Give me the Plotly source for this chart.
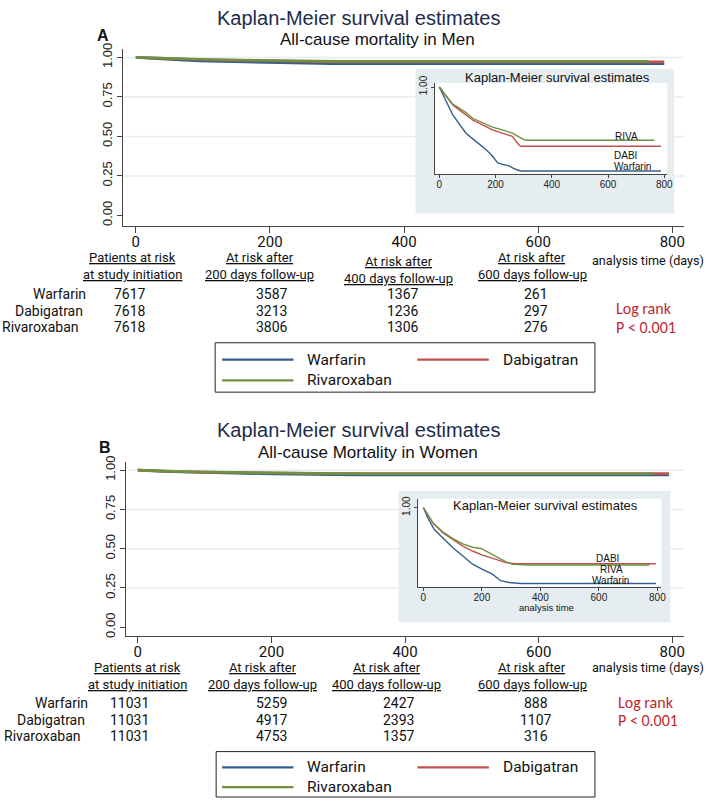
import plotly.graph_objects as go

W, H = 709, 801

# ---------------- data ----------------
drugs = ['Warfarin', 'Dabigatran', 'Rivaroxaban']
inset_labels_a = ['Warfarin', 'DABI', 'RIVA']
inset_labels_b = ['Warfarin', 'DABI', 'RIVA']
colors = ['#34608f', '#c0504d', '#6f9140']

# Panel A (men) Kaplan-Meier survival
a_warf_t = [0, 13, 31, 48, 72, 95, 130, 166, 189, 207, 224, 248, 271, 289, 788]
a_warf_s = [1.0, 0.9961, 0.9914, 0.9867, 0.9820, 0.9780, 0.9741, 0.9702, 0.9671, 0.9639, 0.9631, 0.9624, 0.9608, 0.9600, 0.9600]
a_dabi_t = [0, 25, 48, 72, 95, 119, 154, 189, 224, 260, 277, 289, 788]
a_dabi_s = [1.0, 0.9953, 0.9914, 0.9890, 0.9867, 0.9843, 0.9820, 0.9796, 0.9780, 0.9765, 0.9733, 0.9718, 0.9718]
a_riva_t = [0, 25, 48, 72, 95, 119, 154, 189, 224, 260, 283, 307, 765]
a_riva_s = [1.0, 0.9956, 0.9918, 0.9898, 0.9878, 0.9851, 0.9828, 0.9809, 0.9796, 0.9780, 0.9762, 0.9746, 0.9746]

# Panel B (women)
b_warf_t = [0, 16, 38, 67, 101, 135, 168, 202, 236, 264, 293, 332, 795]
b_warf_s = [1.0, 0.9958, 0.9913, 0.9881, 0.9842, 0.9809, 0.9777, 0.9757, 0.9738, 0.9712, 0.9705, 0.9701, 0.9701]
b_dabi_t = [0, 33, 67, 101, 135, 168, 202, 248, 281, 315, 795]
b_dabi_s = [1.0, 0.9939, 0.9900, 0.9874, 0.9848, 0.9829, 0.9813, 0.9796, 0.9783, 0.9779, 0.9779]
b_riva_t = [0, 33, 67, 101, 135, 168, 197, 225, 248, 281, 304, 361, 773]
b_riva_s = [1.0, 0.9939, 0.9904, 0.9878, 0.9857, 0.9844, 0.9839, 0.9822, 0.9809, 0.9787, 0.9777, 0.9774, 0.9774]

# Numbers at risk
risk_times = [0, 200, 400, 600]
a_risk_warf = [7617, 3587, 1367, 261]
a_risk_dabi = [7618, 3213, 1236, 297]
a_risk_riva = [7618, 3806, 1306, 276]
b_risk_warf = [11031, 5259, 2427, 888]
b_risk_dabi = [11031, 4917, 2393, 1107]
b_risk_riva = [11031, 4753, 1357, 316]

header_line1 = ['Patients at risk', 'At risk after', 'At risk after', 'At risk after']
header_line2 = ['at study initiation', '200 days follow-up', '400 days follow-up', '600 days follow-up']
x_ticks = [0, 200, 400, 600, 800]
y_ticks = [0, 0.25, 0.5, 0.75, 1.0]
grid_vals = [0.25, 0.5, 0.75, 1.0]

# ---------------- styles ----------------
SANS = 'Liberation Sans, Arial, sans-serif'
NARROW = 'Liberation Sans Narrow, Arial Narrow, Roboto, sans-serif'
CAL = 'Carlito, Calibri, Lato, sans-serif'
AX = '#444444'
GRID = '#e5edf0'
BOX = '#e6edf1'
NAVY = '#1c2b4d'
RED = '#c0272d'


def X(px):
    return px / W


def Y(py):
    return 1 - py / H


fig = go.Figure()

panels = [
    dict(main=('x', 'y'), ins=('x2', 'y2'),
         series=[(a_warf_t, a_warf_s), (a_dabi_t, a_dabi_s), (a_riva_t, a_riva_s)]),
    dict(main=('x3', 'y3'), ins=('x4', 'y4'),
         series=[(b_warf_t, b_warf_s), (b_dabi_t, b_dabi_s), (b_riva_t, b_riva_s)]),
]
for p in panels:
    for (t, s), c, name in zip(p['series'], colors, drugs):
        fig.add_trace(go.Scatter(x=t, y=s, mode='lines', line=dict(color=c, width=2.6),
                                 xaxis=p['main'][0], yaxis=p['main'][1], showlegend=False, name=name))
    for (t, s), c, name in zip(p['series'], colors, drugs):
        fig.add_trace(go.Scatter(x=t, y=s, mode='lines', line=dict(color=c, width=1.4),
                                 xaxis=p['ins'][0], yaxis=p['ins'][1], showlegend=False, name=name))


def main_x(domain, rng, anchor):
    return dict(domain=domain, range=rng, anchor=anchor, showline=True, linecolor=AX, linewidth=1.4,
                ticks='outside', ticklen=6, tickcolor=AX, tickwidth=1.2, tickvals=x_ticks,
                ticklabelstandoff=-4,
                tickfont=dict(family=NARROW, size=15, color='#111'), showgrid=False, zeroline=False)


def main_y(domain, rng, anchor):
    return dict(domain=domain, range=rng, anchor=anchor, showline=True, linecolor=AX, linewidth=1.4,
                ticks='outside', ticklen=5, tickcolor=AX, tickwidth=1.2, tickvals=y_ticks,
                tickformat='.2f', tickangle=-90, tickfont=dict(family=SANS, size=13, color='#222'),
                showgrid=False, zeroline=False)


def ins_x(domain, rng, anchor):
    return dict(domain=domain, range=rng, anchor=anchor, showline=True, linecolor=AX, linewidth=1,
                ticks='outside', ticklen=3, tickcolor=AX, tickvals=x_ticks, ticklabelstandoff=-2,
                tickfont=dict(family=SANS, size=10, color='#222'), showgrid=False, zeroline=False)


def ins_y(domain, rng, anchor):
    return dict(domain=domain, range=rng, anchor=anchor, showline=True, linecolor=AX, linewidth=1,
                ticks='outside', ticklen=3, tickcolor=AX, tickvals=[1.0], ticktext=['1.00'],
                tickangle=-90, tickfont=dict(family=SANS, size=10, color='#222'),
                showgrid=False, zeroline=False)


fig.update_layout(
    width=W, height=H, autosize=False, margin=dict(l=0, r=0, t=0, b=0),
    paper_bgcolor='white', plot_bgcolor='white', showlegend=False,
    xaxis=main_x([X(124), X(690)], [-19.2, 817.7], 'y'),
    yaxis=main_y([Y(221), Y(42)], [-0.06875, 1.05], 'x'),
    xaxis2=ins_x([X(439), X(673)], [-14.1, 810.6], 'y2'),
    yaxis2=ins_y([Y(168), Y(76)], [0.95859, 1.00188], 'x2'),
    xaxis3=main_x([X(127), X(690)], [-17.8, 817.8], 'y3'),
    yaxis3=main_y([Y(636), Y(460)], [-0.0566, 1.0503], 'x3'),
    xaxis4=ins_x([X(422), X(667)], [-16.95, 813.6], 'y4'),
    yaxis4=ins_y([Y(586), Y(497)], [0.96883, 1.0035], 'x4'),
)

shapes = []
# main gridlines (drawn below, then covered by inset boxes)
for yref, x0 in (('y', 125), ('y3', 128)):
    for v in grid_vals:
        shapes.append(dict(type='line', xref='paper', yref=yref, x0=X(x0), x1=X(690), y0=v, y1=v,
                           line=dict(color=GRID, width=1.5), layer='below'))
# inset background boxes
shapes.append(dict(type='rect', xref='paper', yref='paper', x0=X(419), x1=X(680), y0=Y(208), y1=Y(62),
                   fillcolor=BOX, line=dict(width=0), layer='below'))
shapes.append(dict(type='rect', xref='paper', yref='paper', x0=X(402), x1=X(676), y0=Y(622), y1=Y(489),
                   fillcolor=BOX, line=dict(width=0), layer='below'))

annotations = []


def ann(text, x, y, size, family=SANS, color='#111', xanchor='center', **kw):
    annotations.append(dict(text=text, x=X(x), y=Y(y), xref='paper', yref='paper', showarrow=False,
                            xanchor=xanchor, yanchor='middle', font=dict(family=family, size=size, color=color), **kw))


panel_text = [
    dict(title='All-cause mortality in Men', letter='A', letter_xy=(104, 28), title_y=10, sub_y=32,
         sub_x=381, ins_title=(562, 70),
         ins_lab=[(638, 161), (631, 149), (632, 130)], ins_lab_text=inset_labels_a, ins_xtitle=None,
         h1=[(133.5, 253), (262, 253), (402, 257), (537, 253)],
         row_right=[89, 86, 82], row_y=[290, 306.5, 323], num_x=[131, 274, 406, 541],
         risk=[a_risk_warf, a_risk_dabi, a_risk_riva], at=(654, 256), lr=[(649, 304), (652, 324)],
         leg=(217, 600, 339, 389), leg_rows=(356, 377)),
    dict(title='All-cause Mortality in Women', letter='B', letter_xy=(106, 445), title_y=427, sub_y=450,
         sub_x=371, ins_title=(550, 504),
         ins_lab=[(616, 580), (613, 557), (617, 569)], ins_lab_text=inset_labels_b, ins_xtitle=(551, 607),
         h1=[(139, 668), (265, 668), (390, 668), (537, 668)],
         row_right=[90.5, 88, 84], row_y=[704, 720.5, 737], num_x=[131, 274, 402, 541],
         risk=[b_risk_warf, b_risk_dabi, b_risk_riva], at=(654, 668), lr=[(652, 703), (654, 722)],
         leg=(218, 600, 753, 799), leg_rows=(769, 789)),
]

for pt in panel_text:
    ann('Kaplan-Meier survival estimates', 362, pt['title_y'], 20, color=NAVY)
    ann(pt['title'], pt['sub_x'], pt['sub_y'], 17, color='#111')
    ann('<b>%s</b>' % pt['letter'], pt['letter_xy'][0], pt['letter_xy'][1], 16, color='#111')
    ann('Kaplan-Meier survival estimates', pt['ins_title'][0], pt['ins_title'][1], 13, color='#111')
    for (lx, ly), txt in zip(pt['ins_lab'], pt['ins_lab_text']):
        ann(txt, lx, ly, 10, color='#111')
    if pt['ins_xtitle']:
        ann('analysis time', pt['ins_xtitle'][0], pt['ins_xtitle'][1], 9.5, color='#111')
    for (hx, hy), l1, l2 in zip(pt['h1'], header_line1, header_line2):
        ann('<u>%s</u>' % l1, hx, hy, 13, family=NARROW)
        ann('<u>%s</u>' % l2, hx, hy + 17, 13, family=NARROW)
    ann('analysis time (days)', pt['at'][0], pt['at'][1], 12.6, family=NARROW)
    for name, rx, ry, vals in zip(drugs, pt['row_right'], pt['row_y'], pt['risk']):
        ann(name, rx, ry, 14, family=NARROW, xanchor='right')
        for nx, v in zip(pt['num_x'], vals):
            ann(str(v), nx, ry, 14, family=NARROW)
    ann('Log rank', pt['lr'][0][0], pt['lr'][0][1], 16, family=CAL, color=RED)
    ann('P < 0.001', pt['lr'][1][0], pt['lr'][1][1], 16, family=CAL, color=RED)
    # legend box
    lx0, lx1, ly0, ly1 = pt['leg']
    shapes.append(dict(type='rect', xref='paper', yref='paper', x0=X(lx0), x1=X(lx1), y0=Y(ly1), y1=Y(ly0),
                       line=dict(color='#222', width=1), fillcolor='rgba(0,0,0,0)', layer='above'))
    key_pos = [(224, pt['leg_rows'][0]), (421, pt['leg_rows'][0]), (224, pt['leg_rows'][1])]
    for (kx, ky), c, name in zip(key_pos, colors, drugs):
        shapes.append(dict(type='line', xref='paper', yref='paper', x0=X(kx), x1=X(kx + 72), y0=Y(ky), y1=Y(ky),
                           line=dict(color=c, width=2.2), layer='above'))
        ann(name, kx + 84, ky, 15.5, family=NARROW, xanchor='left')

fig.update_layout(shapes=shapes, annotations=annotations)
fig.write_html('out.html', config={'displayModeBar': False},
               post_script="document.body.style.margin='0';document.body.style.overflow='hidden';")
